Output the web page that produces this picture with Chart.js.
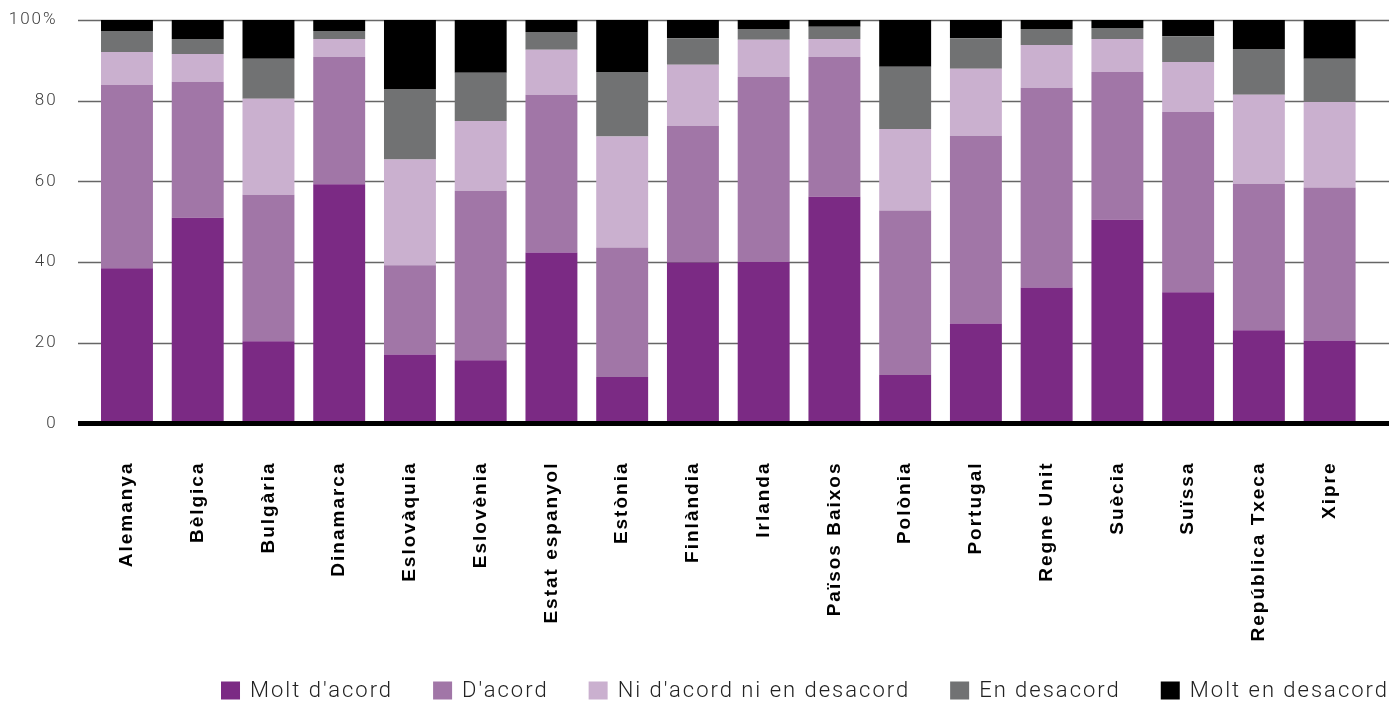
<!DOCTYPE html>
<html lang="ca">
<head>
  <meta charset="UTF-8">
  <title>Grau d'acord per país</title>
  <script src="https://cdn.jsdelivr.net/npm/chart.js"></script>
  <style>
    body { margin: 0; padding: 0; background: #ffffff; }
    .wrap { width: 1389px; height: 703px; position: relative; }
  </style>
</head>
<body>
  <div class="wrap"><canvas id="chart"></canvas></div>

  <script>
    const countries = ['Alemanya', 'Bèlgica', 'Bulgària', 'Dinamarca', 'Eslovàquia', 'Eslovènia', 'Estat espanyol', 'Estònia', 'Finlàndia', 'Irlanda', 'Països Baixos', 'Polònia', 'Portugal', 'Regne Unit', 'Suècia', 'Suïssa', 'República Txeca', 'Xipre'];

    const moltAcord    = [38.5, 51.0, 20.4, 59.3, 17.1, 15.7, 42.4, 11.5, 39.9, 40.1, 56.2, 12.0, 24.8, 33.7, 50.5, 32.5, 23.1, 20.6];
    const dAcord       = [45.4, 33.7, 36.3, 31.5, 22.1, 42.0, 39.1, 32.1, 33.9, 45.8, 34.6, 40.8, 46.5, 49.5, 36.6, 44.7, 36.3, 37.9];
    const niAcord      = [8.2, 6.9, 23.8, 4.5, 26.2, 17.3, 11.1, 27.5, 15.1, 9.2, 4.5, 20.2, 16.6, 10.6, 8.2, 12.4, 22.1, 21.2];
    const enDesacord   = [5.2, 3.7, 9.9, 2.0, 17.5, 11.9, 4.4, 16.0, 6.6, 2.7, 3.0, 15.4, 7.6, 4.0, 2.7, 6.4, 11.3, 10.7];
    const moltDesacord = [2.7, 4.7, 9.6, 2.7, 17.1, 13.1, 3.0, 12.9, 4.5, 2.2, 1.7, 11.6, 4.5, 2.2, 2.0, 4.0, 7.2, 9.6];

    const seriesNames = ["Molt d'acord", "D'acord", "Ni d'acord ni en desacord", 'En desacord', 'Molt en desacord'];
    const seriesColors = ['#7b2a84', '#a176a7', '#cab0cf', '#717273', '#000000'];
    const yTicks = [0, 20, 40, 60, 80, 100];

    const series = [moltAcord, dAcord, niAcord, enDesacord, moltDesacord];

    // letter spacing for the wide label look
    const spacing = {
      id: 'spacing',
      beforeLayout(chart) { chart.ctx.letterSpacing = '2px'; },
      beforeDraw(chart) { chart.ctx.letterSpacing = '2px'; }
    };

    // horizontal grid lines running past the bars, and the thick base line
    const gridLines = {
      id: 'gridLines',
      beforeDatasetsDraw(chart) {
        const ctx = chart.ctx, y = chart.scales.y;
        ctx.save();
        ctx.strokeStyle = '#666666';
        ctx.lineWidth = 1.5;
        yTicks.filter(v => v > 0).forEach(v => {
          const py = Math.round(y.getPixelForValue(v)) + 0.5;
          ctx.beginPath(); ctx.moveTo(78, py); ctx.lineTo(1389, py); ctx.stroke();
        });
        ctx.restore();
      },
      afterDatasetsDraw(chart) {
        const ctx = chart.ctx, y = chart.scales.y;
        const py = y.getPixelForValue(0);
        ctx.save();
        ctx.fillStyle = '#000000';
        ctx.fillRect(78, py - 2.5, 1389 - 78, 5);
        ctx.restore();
      }
    };

    // legend, right aligned at the bottom
    const bottomLegend = {
      id: 'bottomLegend',
      afterDraw(chart) {
        const ctx = chart.ctx;
        ctx.save();
        ctx.font = '300 22px Roboto, "Liberation Sans", sans-serif';
        ctx.letterSpacing = '2px';
        ctx.textBaseline = 'middle';
        ctx.textAlign = 'left';
        const box = 19, boxH = 18, gap = 10, itemGap = 40;
        const widths = seriesNames.map(n => ctx.measureText(n).width);
        let total = widths.reduce((a, w) => a + box + gap + w, 0) + itemGap * (seriesNames.length - 1);
        let x = 1389 - total;
        const cy = 691;
        seriesNames.forEach((n, i) => {
          ctx.fillStyle = seriesColors[i];
          ctx.fillRect(x, cy - boxH / 2 - 0.5, box, boxH);
          ctx.fillStyle = '#222222';
          ctx.fillText(n, x + box + gap, cy);
          x += box + gap + widths[i] + itemGap;
        });
        ctx.restore();
      }
    };

    new Chart(document.getElementById('chart'), {
      type: 'bar',
      data: {
        labels: countries,
        datasets: series.map((d, i) => ({
          label: seriesNames[i],
          data: d,
          backgroundColor: seriesColors[i],
          borderWidth: 0,
          categoryPercentage: 1,
          barPercentage: 0.734
        }))
      },
      options: {
        responsive: true,
        maintainAspectRatio: false,
        animation: false,
        layout: { padding: { top: 20, right: 24, left: 0, bottom: 0 } },
        plugins: { legend: { display: false }, tooltip: { enabled: false } },
        scales: {
          x: {
            stacked: true,
            grid: { display: false },
            border: { display: false },
            ticks: {
              color: '#000000',
              font: { family: '"Liberation Sans", Arial, sans-serif', size: 19, weight: 'bold' },
              minRotation: 90,
              maxRotation: 90,
              padding: 30,
              autoSkip: false
            },
            afterFit(scale) { scale.height = 703 - 423.5; }
          },
          y: {
            stacked: true,
            min: 0,
            max: 100,
            grid: { display: true, drawOnChartArea: false, drawTicks: true, tickLength: 30, color: 'rgba(0,0,0,0)' },
            border: { display: false },
            afterBuildTicks(scale) { scale.ticks = yTicks.map(v => ({ value: v })); },
            ticks: {
              color: '#3c3c3c',
              font: { family: 'Roboto, "Liberation Sans", sans-serif', size: 17, weight: 300 },
              padding: 4,
              callback: v => v === 100 ? '100%' : v
            },
            afterFit(scale) { scale.width = 91.6; }
          }
        }
      },
      plugins: [spacing, gridLines, bottomLegend]
    });
  </script>
</body>
</html>
